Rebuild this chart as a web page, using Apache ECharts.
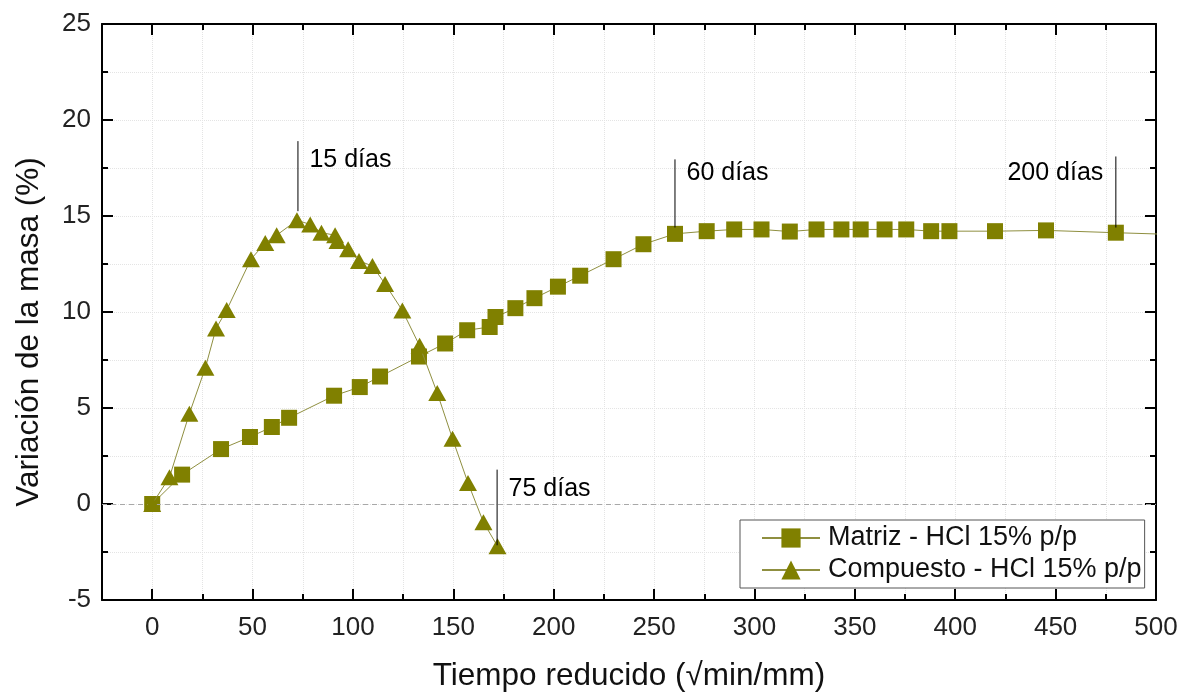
<!DOCTYPE html>
<html>
<head>
<meta charset="utf-8">
<script src="https://cdn.jsdelivr.net/npm/echarts@6/dist/echarts.min.js"></script>
<style>
html,body{margin:0;padding:0;background:#ffffff;}
#chart{width:1187px;height:697px;}
</style>
</head>
<body>
<div id="chart"></div>
<script>
// ---- Data ----
const matrizName = 'Matriz - HCl 15% p/p';
const compName = 'Compuesto - HCl 15% p/p';

const matX = [0, 14.9, 34.3, 48.7, 59.6, 68.2, 90.6, 103.4, 113.5, 132.9, 145.9, 156.9, 168.1, 171, 180.9, 190.4, 202.1, 213.2, 229.8, 244.7, 260.4, 276.2, 289.9, 303.5, 317.6, 330.9, 343.3, 352.9, 364.8, 375.6, 388, 397.1, 419.8, 445.2, 480, 520];
const matY = [0, 1.53, 2.86, 3.49, 4.01, 4.49, 5.64, 6.09, 6.64, 7.68, 8.36, 9.05, 9.22, 9.74, 10.2, 10.72, 11.32, 11.89, 12.75, 13.53, 14.07, 14.21, 14.3, 14.3, 14.19, 14.3, 14.3, 14.3, 14.3, 14.3, 14.21, 14.21, 14.21, 14.25, 14.13, 14.0];

const compX = [0, 8.6, 18.5, 26.5, 31.8, 37.1, 49.2, 56.3, 62, 72.1, 78.7, 84.3, 91.1, 92.3, 97.6, 103, 109.7, 116, 124.6, 133.2, 142, 149.6, 157.3, 165, 172];
const compY = [0, 1.39, 4.7, 7.1, 9.14, 10.1, 12.75, 13.6, 14.0, 14.78, 14.56, 14.13, 14.0, 13.7, 13.27, 12.66, 12.4, 11.46, 10.08, 8.24, 5.78, 3.4, 1.1, -0.95, -2.2];

const xTicks = [0, 50, 100, 150, 200, 250, 300, 350, 400, 450, 500];
const yTicks = [-5, 0, 5, 10, 15, 20, 25];

const annotText = ['15 días', '60 días', '75 días', '200 días'];
const annotX = [72.6, 260.4, 171.8, 480];
const annotTop = [18.9, 17.95, 1.79, 18.1];
const annotBottom = [15.25, 14.4, -2.15, 14.4];
const annotTextY = [17.9, 17.25, 0.8, 17.25];
const annotSide = ['right', 'right', 'right', 'left'];

// ---- Styling ----
const FONT = "'Liberation Sans', Arial, sans-serif";
const OLIVE = '#808000';
const LINE_OLIVE = '#8f8f40';
const axisLineStyle = { color: '#000', width: 2 };
const tickLineStyle = { color: '#000', width: 2 };
const gridLine = { show: true, lineStyle: { color: '#e4e4e4', type: 'dotted', width: 1 } };

const zip = (xs, ys) => xs.map((x, i) => [x, ys[i]]);

const xBase = { type: 'value', min: -25, max: 500, gridIndex: 0 };
const yBase = { type: 'value', min: yTicks[0], max: yTicks[yTicks.length - 1], interval: 5, gridIndex: 0 };

const series = [
  {
    name: matrizName, type: 'line', data: zip(matX, matY),
    symbol: 'rect', symbolSize: 16,
    itemStyle: { color: OLIVE },
    lineStyle: { color: LINE_OLIVE, width: 1 },
    z: 4, clip: true, animation: false
  },
  {
    name: compName, type: 'line', data: zip(compX, compY),
    symbol: 'triangle', symbolSize: [18, 16],
    itemStyle: { color: OLIVE },
    lineStyle: { color: LINE_OLIVE, width: 1 },
    z: 5, clip: true, animation: false
  },
  {
    name: 'zero', type: 'line', data: [], animation: false,
    markLine: {
      silent: true, symbol: 'none', animation: false,
      label: { show: false },
      lineStyle: { color: '#a8a8a8', type: [5, 4], width: 1 },
      data: [{ yAxis: 0 }]
    }
  }
];

annotText.forEach((t, i) => {
  series.push({
    name: 'annot' + i, type: 'line', symbol: 'none', animation: false,
    data: [[annotX[i], annotBottom[i]], [annotX[i], annotTop[i]]],
    lineStyle: { color: '#000', width: 1, opacity: 1 }, z: 6
  });
});

series.push({
  name: 'annotText', type: 'scatter', symbolSize: 1, animation: false, z: 7,
  itemStyle: { color: 'rgba(0,0,0,0)' },
  data: annotText.map((t, i) => ({
    value: [annotX[i], annotTextY[i]],
    label: {
      show: true, formatter: t, position: annotSide[i], distance: annotSide[i] === 'right' ? 11 : 12,
      fontSize: 25, color: '#000', opacity: 1, fontFamily: FONT
    }
  }))
});

const option = {
  backgroundColor: '#ffffff',
  animation: false,
  grid: { left: 102, right: 31, top: 24, bottom: 94, containLabel: false },
  legend: {
    data: [matrizName, compName],
    orient: 'vertical',
    left: 740, top: 520,
    padding: [4, 3, 4, 21],
    itemWidth: 58, itemHeight: 24, itemGap: 4,
    borderColor: '#555', borderWidth: 1,
    backgroundColor: '#fff',
    textStyle: { fontSize: 27, color: '#111', fontFamily: FONT, lineHeight: 28, padding: [0, 0, 0, 3] }
  },
  xAxis: [
    Object.assign({}, xBase, {
      position: 'bottom', interval: 25,
      axisLine: { show: true, onZero: false, lineStyle: axisLineStyle },
      axisTick: { show: true, inside: true, length: 6, lineStyle: tickLineStyle },
      axisLabel: {
        formatter: v => (xTicks.indexOf(v) >= 0 ? String(v) : ''),
        margin: 15, fontSize: 26, color: '#222', fontFamily: FONT
      },
      splitLine: gridLine,
      name: 'Tiempo reducido (√min/mm)', nameLocation: 'middle', nameGap: 60,
      nameTextStyle: { fontSize: 31.5, color: '#111', fontFamily: FONT }
    }),
    Object.assign({}, xBase, {
      position: 'bottom',
      axisLine: { show: false, onZero: false },
      axisTick: { show: true, inside: true, length: 11, customValues: xTicks, lineStyle: tickLineStyle },
      axisLabel: { show: false },
      splitLine: { show: false }
    }),
    Object.assign({}, xBase, {
      position: 'top', interval: 25,
      axisLine: { show: true, onZero: false, lineStyle: axisLineStyle },
      axisTick: { show: true, inside: true, length: 6, lineStyle: tickLineStyle },
      axisLabel: { show: false },
      splitLine: { show: false }
    }),
    Object.assign({}, xBase, {
      position: 'top',
      axisLine: { show: false, onZero: false },
      axisTick: { show: true, inside: true, length: 11, customValues: xTicks, lineStyle: tickLineStyle },
      axisLabel: { show: false },
      splitLine: { show: false }
    })
  ],
  yAxis: [
    Object.assign({}, yBase, {
      position: 'left',
      axisLine: { show: true, onZero: false, lineStyle: axisLineStyle },
      axisTick: { show: true, inside: true, length: 11, lineStyle: tickLineStyle },
      minorTick: { show: true, splitNumber: 2, length: 6, lineStyle: tickLineStyle },
      axisLabel: { margin: 11, fontSize: 26, color: '#222', fontFamily: FONT },
      splitLine: gridLine,
      minorSplitLine: gridLine,
      name: 'Variación de la masa (%)', nameLocation: 'middle', nameGap: 57,
      nameTextStyle: { fontSize: 31.5, color: '#111', fontFamily: FONT, padding: [0, 40, 0, 0] }
    }),
    Object.assign({}, yBase, {
      position: 'right',
      axisLine: { show: true, onZero: false, lineStyle: axisLineStyle },
      axisTick: { show: true, inside: true, length: 11, lineStyle: tickLineStyle },
      minorTick: { show: true, splitNumber: 2, length: 6, lineStyle: tickLineStyle },
      axisLabel: { show: false },
      splitLine: { show: false }
    })
  ],
  series: series
};

const chart = echarts.init(document.getElementById('chart'), null, { renderer: 'canvas' });
chart.setOption(option);
</script>
</body>
</html>
